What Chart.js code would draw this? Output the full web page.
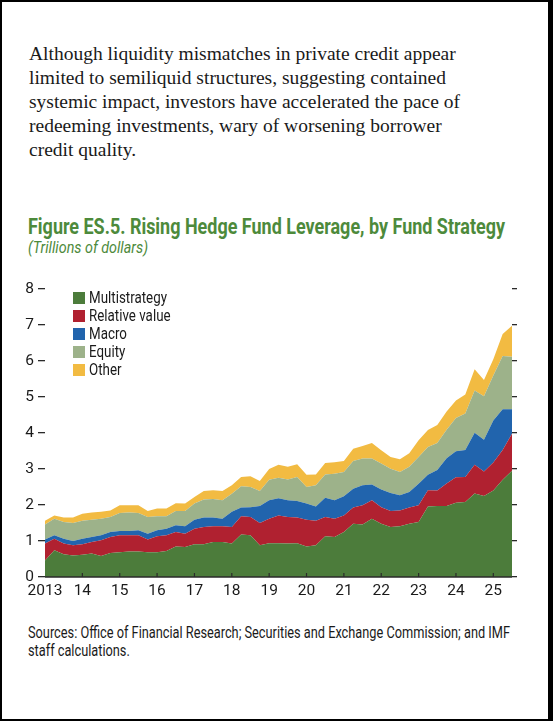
<!DOCTYPE html>
<html>
<head>
<meta charset="utf-8">
<script src="https://cdn.jsdelivr.net/npm/chart.js@4.4.1/dist/chart.umd.min.js"></script>
<style>
    body {
        margin: 0;
        width: 553px;
        height: 721px;
        background: #fff;
        position: relative;
        overflow: hidden;
    }
    .frame {
        position: absolute;
        left: 0;
        top: 0;
        width: 553px;
        height: 721px;
        box-sizing: border-box;
        border-style: solid;
        border-color: #000;
        border-width: 2px 5px 2px 2px;
        pointer-events: none;
    }
    .intro {
        position: absolute;
        left: 29px;
        top: 42px;
        font-family: "Liberation Serif", "DejaVu Serif", serif;
        font-size: 19.5px;
        line-height: 24px;
        color: #1a1a1a;
        white-space: nowrap;
    }
    .fit {
        display: inline-block;
        white-space: nowrap;
        transform-origin: 0 50%;
    }
    .title {
        position: absolute;
        left: 28px;
        top: 214px;
        font-family: Roboto, "Liberation Sans", sans-serif;
        font-weight: bold;
        font-size: 22px;
        color: #4d8a3b;
    }
    .subtitle {
        position: absolute;
        left: 28px;
        top: 238px;
        font-family: Roboto, "Liberation Sans", sans-serif;
        font-style: italic;
        font-size: 16px;
        color: #4d8a3b;
    }
    .legend {
        position: absolute;
        left: 73px;
        top: 289px;
        font-family: Roboto, "Liberation Sans", sans-serif;
        font-size: 16.5px;
        color: #1a1a1a;
    }
    .legend div {
        height: 18px;
        line-height: 18px;
        display: flex;
        align-items: center;
    }
    .legend span.box {
        width: 12px;
        height: 12px;
        margin-right: 4px;
        display: inline-block;
    }
    .sources {
        position: absolute;
        left: 28px;
        top: 624px;
        font-family: Roboto, "Liberation Sans", sans-serif;
        font-size: 16px;
        line-height: 18px;
        color: #1a1a1a;
        transform-origin: 0 0;
    }
    .chart-box {
        position: absolute;
        left: 0;
        top: 270px;
        width: 553px;
        height: 340px;
    }
</style>
</head>
<body>
<div class="intro">
    Although liquidity mismatches in private credit appear<br>
    limited to semiliquid structures, suggesting contained<br>
    systemic impact, investors have accelerated the pace of<br>
    redeeming investments, wary of worsening borrower<br>
    credit quality.
</div>
<div class="title"><span class="fit" id="titleText">Figure ES.5. Rising Hedge Fund Leverage, by Fund Strategy</span></div>
<div class="subtitle"><span class="fit" id="subtitleText">(Trillions of dollars)</span></div>
<div class="chart-box"><canvas id="leverageChart"></canvas></div>
<div class="legend" id="legend"></div>
<div class="sources" id="sources">
    <span class="fit" id="sourcesLine">Sources: Office of Financial Research; Securities and Exchange Commission; and IMF</span><br>
    <span>staff calculations.</span>
</div>
<div class="frame"></div>

<script>
const quarters = [
    '2013Q1', '2013Q2', '2013Q3', '2013Q4', '2014Q1', '2014Q2', '2014Q3', '2014Q4',
    '2015Q1', '2015Q2', '2015Q3', '2015Q4', '2016Q1', '2016Q2', '2016Q3', '2016Q4',
    '2017Q1', '2017Q2', '2017Q3', '2017Q4', '2018Q1', '2018Q2', '2018Q3', '2018Q4',
    '2019Q1', '2019Q2', '2019Q3', '2019Q4', '2020Q1', '2020Q2', '2020Q3', '2020Q4',
    '2021Q1', '2021Q2', '2021Q3', '2021Q4', '2022Q1', '2022Q2', '2022Q3', '2022Q4',
    '2023Q1', '2023Q2', '2023Q3', '2023Q4', '2024Q1', '2024Q2', '2024Q3', '2024Q4',
    '2025Q1', '2025Q2', '2025Q3'
];

// trillions of dollars
const multistrategy = [
    0.46, 0.74, 0.63, 0.60, 0.62, 0.65, 0.58, 0.67, 0.69, 0.71, 0.71, 0.69, 0.69,
    0.72, 0.85, 0.83, 0.91, 0.91, 0.97, 0.97, 0.93, 1.18, 1.16, 0.88,
    0.94, 0.94, 0.93, 0.94, 0.85, 0.88, 1.13, 1.11, 1.25, 1.48, 1.46, 1.62,
    1.48, 1.39, 1.41, 1.48, 1.53, 1.96, 1.97, 1.97, 2.06, 2.08, 2.32, 2.25,
    2.40, 2.70, 2.95
];
const relativeValue = [
    0.47, 0.32, 0.30, 0.28, 0.29, 0.32, 0.44, 0.44, 0.47, 0.45, 0.45, 0.35, 0.44,
    0.44, 0.40, 0.37, 0.43, 0.48, 0.44, 0.44, 0.46, 0.51, 0.51, 0.62,
    0.68, 0.77, 0.74, 0.71, 0.74, 0.68, 0.54, 0.51, 0.46, 0.45, 0.53, 0.51,
    0.46, 0.44, 0.44, 0.45, 0.46, 0.45, 0.43, 0.63, 0.71, 0.70, 0.80, 0.68,
    0.78, 0.83, 1.03
];
const macro = [
    0.11, 0.10, 0.13, 0.12, 0.15, 0.14, 0.14, 0.14, 0.12, 0.12, 0.14, 0.16, 0.17,
    0.18, 0.19, 0.21, 0.25, 0.26, 0.24, 0.21, 0.42, 0.24, 0.27, 0.47,
    0.51, 0.48, 0.46, 0.46, 0.45, 0.40, 0.53, 0.51, 0.53, 0.52, 0.56, 0.44,
    0.49, 0.50, 0.42, 0.43, 0.60, 0.43, 0.57, 0.70, 0.72, 0.75, 0.89, 0.88,
    1.17, 1.13, 0.68
];
const equity = [
    0.42, 0.46, 0.47, 0.50, 0.50, 0.48, 0.46, 0.42, 0.50, 0.51, 0.48, 0.47, 0.39,
    0.35, 0.39, 0.42, 0.45, 0.50, 0.52, 0.51, 0.50, 0.59, 0.56, 0.42,
    0.57, 0.57, 0.58, 0.67, 0.46, 0.59, 0.65, 0.74, 0.68, 0.77, 0.74, 0.72,
    0.72, 0.68, 0.65, 0.70, 0.74, 0.77, 0.75, 0.79, 0.93, 1.01, 1.17, 1.21,
    1.25, 1.48, 1.46
];
const other = [
    0.10, 0.09, 0.12, 0.15, 0.20, 0.20, 0.19, 0.18, 0.21, 0.20, 0.21, 0.16, 0.21,
    0.21, 0.22, 0.21, 0.18, 0.24, 0.24, 0.26, 0.24, 0.26, 0.30, 0.28,
    0.30, 0.36, 0.35, 0.35, 0.34, 0.30, 0.32, 0.32, 0.30, 0.34, 0.35, 0.43,
    0.37, 0.32, 0.35, 0.38, 0.47, 0.47, 0.50, 0.51, 0.48, 0.53, 0.59, 0.45,
    0.45, 0.61, 0.86
];

const seriesNames = ['Multistrategy', 'Relative value', 'Macro', 'Equity', 'Other'];
const seriesColors = ['#4c7c3b', '#b02130', '#2164ad', '#9db28a', '#f2bb42'];
const yTicks = [0, 1, 2, 3, 4, 5, 6, 7, 8];

const tickFont = {
    family: 'Roboto, "Liberation Sans", sans-serif',
    size: 15.5
};

// squeeze a line of text to the width it has in the print layout
function fitWidth(el, target) {
    const natural = el.getBoundingClientRect().width;
    const k = target / natural;
    el.style.transform = 'scaleX(' + k + ')';
    return k;
}

function buildLegend() {
    const legend = document.getElementById('legend');
    seriesNames.forEach((name, i) => {
        const row = document.createElement('div');
        row.innerHTML = '<span class="box" style="background:' + seriesColors[i] + '"></span>' +
            '<span class="fit legend-label">' + name + '</span>';
        legend.appendChild(row);
    });
    const labels = legend.querySelectorAll('.legend-label');
    const k = 78 / labels[0].getBoundingClientRect().width;
    labels.forEach(l => { l.style.transform = 'scaleX(' + k + ')'; });
}

function fitTexts() {
    fitWidth(document.getElementById('titleText'), 477);
    fitWidth(document.getElementById('subtitleText'), 120);
    const k = 482 / document.getElementById('sourcesLine').getBoundingClientRect().width;
    document.getElementById('sourcesLine').style.transform = '';
    document.getElementById('sources').style.transform = 'scaleX(' + k + ')';
}

// year ticks point up into the plot and sit on top of the fills
const axisOverlay = {
    id: 'axisOverlay',
    afterDatasetsDraw(chart) {
        const ctx = chart.ctx;
        const x = chart.scales.x;
        const bottom = chart.chartArea.bottom;
        ctx.save();
        ctx.strokeStyle = '#2a2a2a';
        ctx.lineWidth = 1.5;
        ctx.beginPath();
        ctx.moveTo(chart.chartArea.left, bottom);
        ctx.lineTo(chart.chartArea.right, bottom);
        ctx.stroke();
        ctx.lineWidth = 1.2;
        quarters.forEach((q, i) => {
            if (q.endsWith('Q1') && i > 0) {
                const px = x.getPixelForValue(i);
                ctx.beginPath();
                ctx.moveTo(px, bottom);
                ctx.lineTo(px, bottom - 4);
                ctx.stroke();
            }
        });
        ctx.restore();
    }
};

function drawChart() {
    const ctx = document.getElementById('leverageChart').getContext('2d');
    const values = [multistrategy, relativeValue, macro, equity, other];

    new Chart(ctx, {
        type: 'line',
        data: {
            labels: quarters,
            datasets: seriesNames.map((name, i) => ({
                label: name,
                data: values[i],
                backgroundColor: seriesColors[i],
                borderWidth: 0,
                pointRadius: 0,
                tension: 0,
                fill: i === 0 ? 'origin' : '-1'
            }))
        },
        options: {
            responsive: true,
            maintainAspectRatio: false,
            animation: false,
            layout: {
                padding: { top: 19, left: 0, right: 0, bottom: 0 }
            },
            plugins: {
                legend: { display: false },
                tooltip: { enabled: false }
            },
            scales: {
                x: {
                    grid: { display: false },
                    border: { display: false },
                    ticks: {
                        autoSkip: false,
                        maxRotation: 0,
                        padding: -3,
                        color: '#1a1a1a',
                        font: tickFont,
                        callback: function (value, index) {
                            const q = quarters[index];
                            if (!q.endsWith('Q1')) return '';
                            return index === 0 ? q.slice(0, 4) : q.slice(2, 4);
                        }
                    },
                    afterFit: function (scale) {
                        scale.height = 33;
                    }
                },
                y: {
                    stacked: true,
                    min: yTicks[0],
                    max: yTicks[yTicks.length - 1],
                    border: { display: false },
                    grid: {
                        drawOnChartArea: false,
                        drawTicks: true,
                        tickLength: 7,
                        color: '#2a2a2a',
                        lineWidth: 1.3
                    },
                    ticks: {
                        stepSize: 1,
                        padding: 4,
                        color: '#1a1a1a',
                        font: tickFont
                    },
                    afterFit: function (scale) {
                        scale.width = 45;
                    }
                },
                yRight: {
                    position: 'right',
                    min: yTicks[0],
                    max: yTicks[yTicks.length - 1],
                    border: { display: false },
                    grid: {
                        drawOnChartArea: false,
                        drawTicks: true,
                        tickLength: 5,
                        color: '#2a2a2a',
                        lineWidth: 1.3
                    },
                    ticks: {
                        stepSize: 1,
                        display: false
                    },
                    afterFit: function (scale) {
                        scale.width = 41;
                    }
                }
            }
        },
        plugins: [axisOverlay]
    });
}

buildLegend();
fitTexts();
drawChart();
</script>
</body>
</html>
